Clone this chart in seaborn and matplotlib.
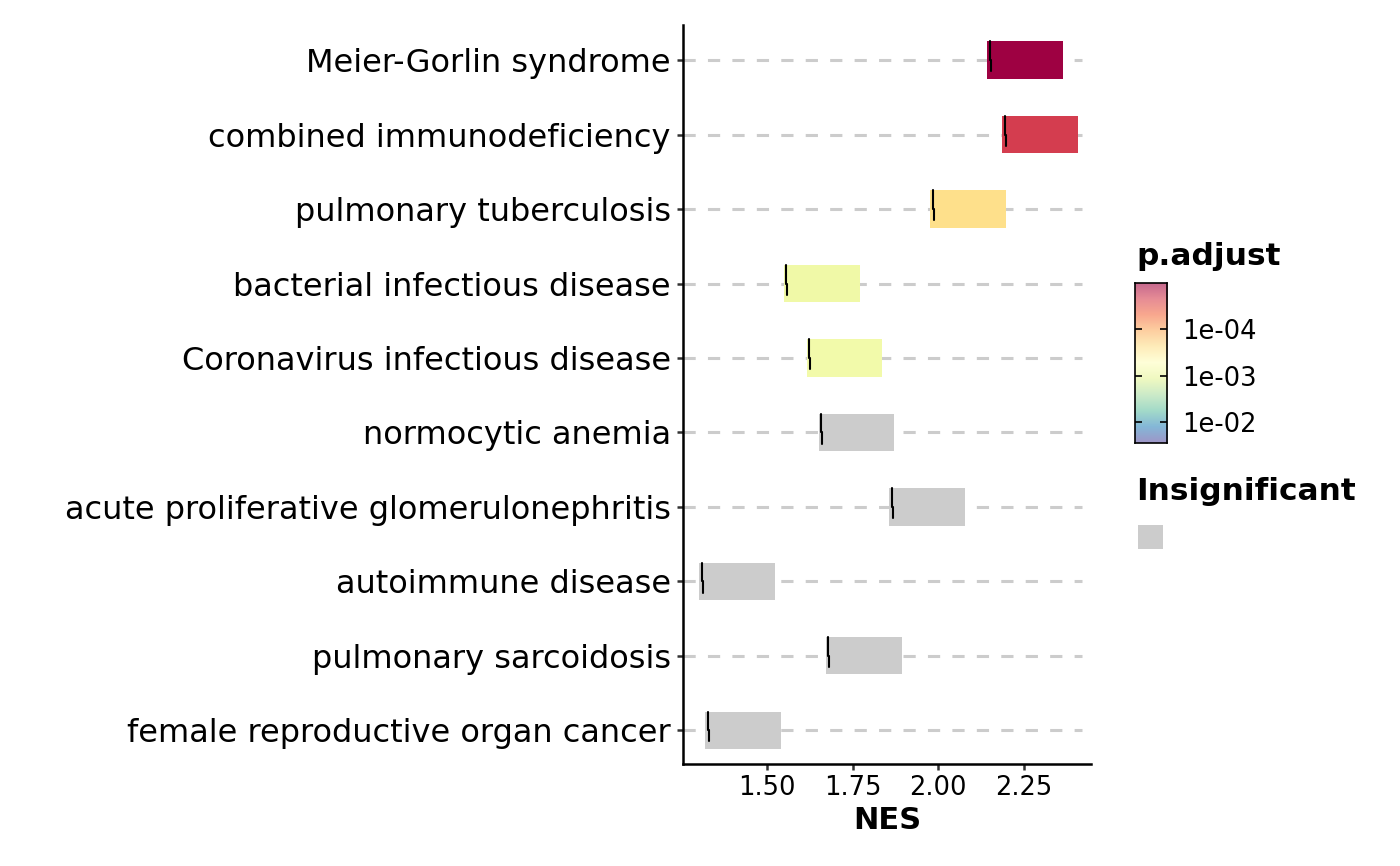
import numpy as np
import pandas as pd
import matplotlib
matplotlib.use("Agg")
import matplotlib.pyplot as plt
from matplotlib.patches import Rectangle
import seaborn as sns

# ---------------- data ----------------
terms = ["Meier-Gorlin syndrome", "combined immunodeficiency", "pulmonary tuberculosis",
         "bacterial infectious disease", "Coronavirus infectious disease", "normocytic anemia",
         "acute proliferative glomerulonephritis", "autoimmune disease",
         "pulmonary sarcoidosis", "female reproductive organ cancer"]
nes = [2.151, 2.195, 1.984, 1.556, 1.623, 1.658, 1.864, 1.309, 1.679, 1.327]
p_adjust = [1.0e-05, 2.2e-05, 2.4e-04, 8.5e-04, 8.0e-04, 0.08, 0.09, 0.12, 0.10, 0.15]
significant = [True, True, True, True, True, False, False, False, False, False]
cbar_ticks = [1e-04, 1e-03, 1e-02]
cbar_labels = ["1e-04", "1e-03", "1e-02"]

# ---------------- styling ----------------
sns.set_theme(style="ticks")
plt.rcParams["font.family"] = ["DejaVu Sans"]
for k in ["text.color", "axes.labelcolor", "xtick.color", "ytick.color", "axes.edgecolor"]:
    plt.rcParams[k] = "black"

cmap = plt.get_cmap("Spectral")
lo, hi = -5.0, -1.55
norm = matplotlib.colors.Normalize(vmin=lo, vmax=hi)
colors = [cmap(norm(np.log10(p))) if s else "#CCCCCC" for p, s in zip(p_adjust, significant)]

bar_len = 0.222
start = [v - 0.008 for v in nes]
end = [s + bar_len for s in start]
df = pd.DataFrame({"term": terms, "end": end, "start": start, "nes": nes})

fig = plt.figure(figsize=(14, 8.66), dpi=100)
ax = fig.add_axes([0.488, 0.118, 0.291, 0.853])

xmin, xmax = 1.254, 2.446
# dashed guide lines
for i in range(len(terms)):
    ax.plot([xmin, 2.42], [i, i], color="#CCCCCC", lw=2.2, ls=(0, (4, 4)), zorder=0,
            solid_capstyle="butt", dash_capstyle="butt")

sns.barplot(data=df, x="end", y="term", hue="term", palette=colors, legend=False,
            orient="y", width=0.5, ax=ax, saturation=1, zorder=2)
# bars span from start to end
for p, s, e in zip(list(ax.patches), start, end):
    p.set_x(s)
    p.set_width(e - s)
    p.set_edgecolor("none")

# small black NES marks
for i, v in enumerate(nes):
    ax.plot([v, v, v + 0.003, v + 0.003], [i - 0.25, i + 0.0, i + 0.0, i + 0.15],
            color="black", lw=1.5, zorder=3)

ax.set_xlim(xmin, xmax)
ax.set_ylim(9.45, -0.47)
ax.set_xticks([1.5, 1.75, 2.0, 2.25])
ax.set_xticklabels(["1.50", "1.75", "2.00", "2.25"])
ax.set_xlabel("NES", fontsize=22, fontweight="bold", labelpad=4)
ax.set_ylabel("")
ax.tick_params(axis="x", labelsize=18.5, length=4, width=1.8, color="#333333", pad=4)
ax.tick_params(axis="y", labelsize=23, length=4, width=1.8, color="#333333", pad=5)
for sp in ["top", "right"]:
    ax.spines[sp].set_visible(False)
for sp in ["left", "bottom"]:
    ax.spines[sp].set_linewidth(1.8)
    ax.spines[sp].set_color("black")

# ---------------- colour bar legend ----------------
fig.text(0.8114, 0.694, "p.adjust", fontsize=22.5, fontweight="bold", va="baseline", ha="left")
cax = fig.add_axes([0.8107, 0.4885, 0.0229, 0.1848])
grad = np.linspace(lo, hi, 256)[:, None]
cax.imshow(grad, aspect="auto", cmap=cmap, norm=norm, alpha=0.6,
           extent=[0, 1, lo, hi], origin="lower")
cax.set_ylim(hi, lo)
cax.set_xticks([])
cax.yaxis.tick_right()
cax.set_yticks([np.log10(t) for t in cbar_ticks])
cax.set_yticklabels(cbar_labels)
cax.tick_params(axis="y", direction="in", left=True, right=True, length=5, width=1.2,
                color="black", labelsize=18.5, pad=11)
for sp in cax.spines.values():
    sp.set_linewidth(1.2)
    sp.set_color("black")

fig.text(0.8114, 0.4226, "Insignificant", fontsize=22.5, fontweight="bold", va="baseline", ha="left")
fig.patches.append(Rectangle((0.8129, 0.366), 0.0179, 0.0277, transform=fig.transFigure,
                             facecolor="#CCCCCC", edgecolor="none"))

fig.savefig("out.png", dpi=100)
